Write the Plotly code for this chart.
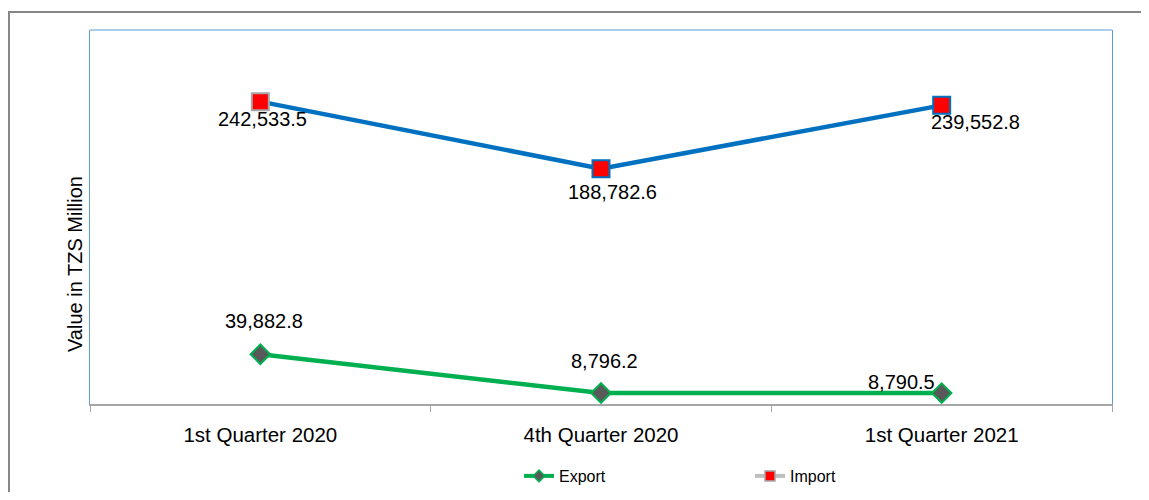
import plotly.graph_objects as go

categories = ["1st Quarter 2020", "4th Quarter 2020", "1st Quarter 2021"]
export_values = [39882.8, 8796.2, 8790.5]
import_values = [242533.5, 188782.6, 239552.8]
y_title = "Value in TZS Million"

FONT = "Liberation Sans, Arial, sans-serif"
GREEN = "#00B050"
BLUE = "#0070C0"
RED = "#FF0000"
GREY = "#A6A6A6"
DARK = "#595959"
FRAME = "#5B9BD5"

fig = go.Figure()

fig.add_trace(go.Scatter(
    x=categories, y=export_values, mode="lines+markers", showlegend=False,
    line=dict(color=GREEN, width=4.5),
    marker=dict(symbol="diamond", size=15, color=DARK, line=dict(color=GREEN, width=2)),
    cliponaxis=False,
))
fig.add_trace(go.Scatter(
    x=categories, y=import_values, mode="lines+markers", showlegend=False,
    line=dict(color=BLUE, width=4.5),
    marker=dict(symbol="square", size=17, color=RED,
                line=dict(color=[GREY, BLUE, BLUE], width=2)),
    cliponaxis=False,
))

# legend proxies
fig.add_trace(go.Scatter(
    x=[None], y=[None], mode="lines+markers", name="Export",
    line=dict(color=GREEN, width=4),
    marker=dict(symbol="diamond", size=9, color=DARK, line=dict(color=GREEN, width=1.5)),
))
fig.add_trace(go.Scatter(
    x=[None], y=[None], mode="lines+markers", name="Import",
    line=dict(color="#BFBFBF", width=4),
    marker=dict(symbol="square", size=10, color=RED, line=dict(color=GREY, width=1.5)),
))

export_offsets = [(4, 33), (3, 32), (-40, 11)]
import_offsets = [(2, -17), (11, -23), (34, -17)]
annotations = []
for cat, v, (dx, dy) in zip(categories, export_values, export_offsets):
    annotations.append(dict(x=cat, y=v, xref="x", yref="y", text=f"{v:,.1f}",
                            showarrow=False, xshift=dx, yshift=dy,
                            font=dict(family=FONT, size=20, color="#000000")))
for cat, v, (dx, dy) in zip(categories, import_values, import_offsets):
    annotations.append(dict(x=cat, y=v, xref="x", yref="y", text=f"{v:,.1f}",
                            showarrow=False, xshift=dx, yshift=dy,
                            font=dict(family=FONT, size=20, color="#000000")))

# page has an 8px body margin; size the figure so the page fits the window exactly
W, H = 1141, 484
L, R, T, B = 82, 37, 22, 88
pw, ph = W - L - R, H - T - B

annotations.append(dict(x=(67 - L) / pw, y=(T + ph - 256) / ph, xref="paper", yref="paper",
                        text=y_title, textangle=-90, showarrow=False,
                        xanchor="center", yanchor="middle",
                        font=dict(family=FONT, size=20, color="#000000")))

shapes = [
    dict(type="rect", xref="paper", yref="paper",
         x0=(1 - L) / pw, x1=1.2, y0=-0.5, y1=1 + (T - 4) / ph,
         line=dict(color="#878787", width=2), layer="below"),
    dict(type="line", xref="paper", yref="paper", x0=0, x1=1, y0=1, y1=1,
         line=dict(color=FRAME, width=1)),
]

fig.update_layout(
    width=W, height=H,
    margin=dict(l=L, r=R, t=T, b=B, autoexpand=False),
    paper_bgcolor="white", plot_bgcolor="white",
    font=dict(family=FONT, size=20, color="#000000"),
    annotations=annotations,
    shapes=shapes,
    legend=dict(orientation="h", xref="container", yref="container",
                x=511 / W, xanchor="left",
                y=1 - 451 / H, yanchor="top",
                entrywidth=186, entrywidthmode="pixels",
                font=dict(family=FONT, size=16, color="#000000"),
                bgcolor="rgba(0,0,0,0)"),
)
fig.update_xaxes(
    type="category", range=[-0.5, 2.5], automargin=False,
    showline=True, linecolor="#A6A6A6", linewidth=1.5,
    ticks="outside", tickson="boundaries", ticklen=6, tickcolor="#A6A6A6",
    ticklabelstandoff=12,
    showgrid=False, zeroline=False,
    tickfont=dict(family=FONT, size=20.5, color="#000000"),
)
fig.update_yaxes(
    range=[0, 300000], showticklabels=False, ticks="", automargin=False,
    showgrid=False, zeroline=False,
    showline=True, linecolor=FRAME, linewidth=1, mirror=True,
)

fig.write_html("out.html")
